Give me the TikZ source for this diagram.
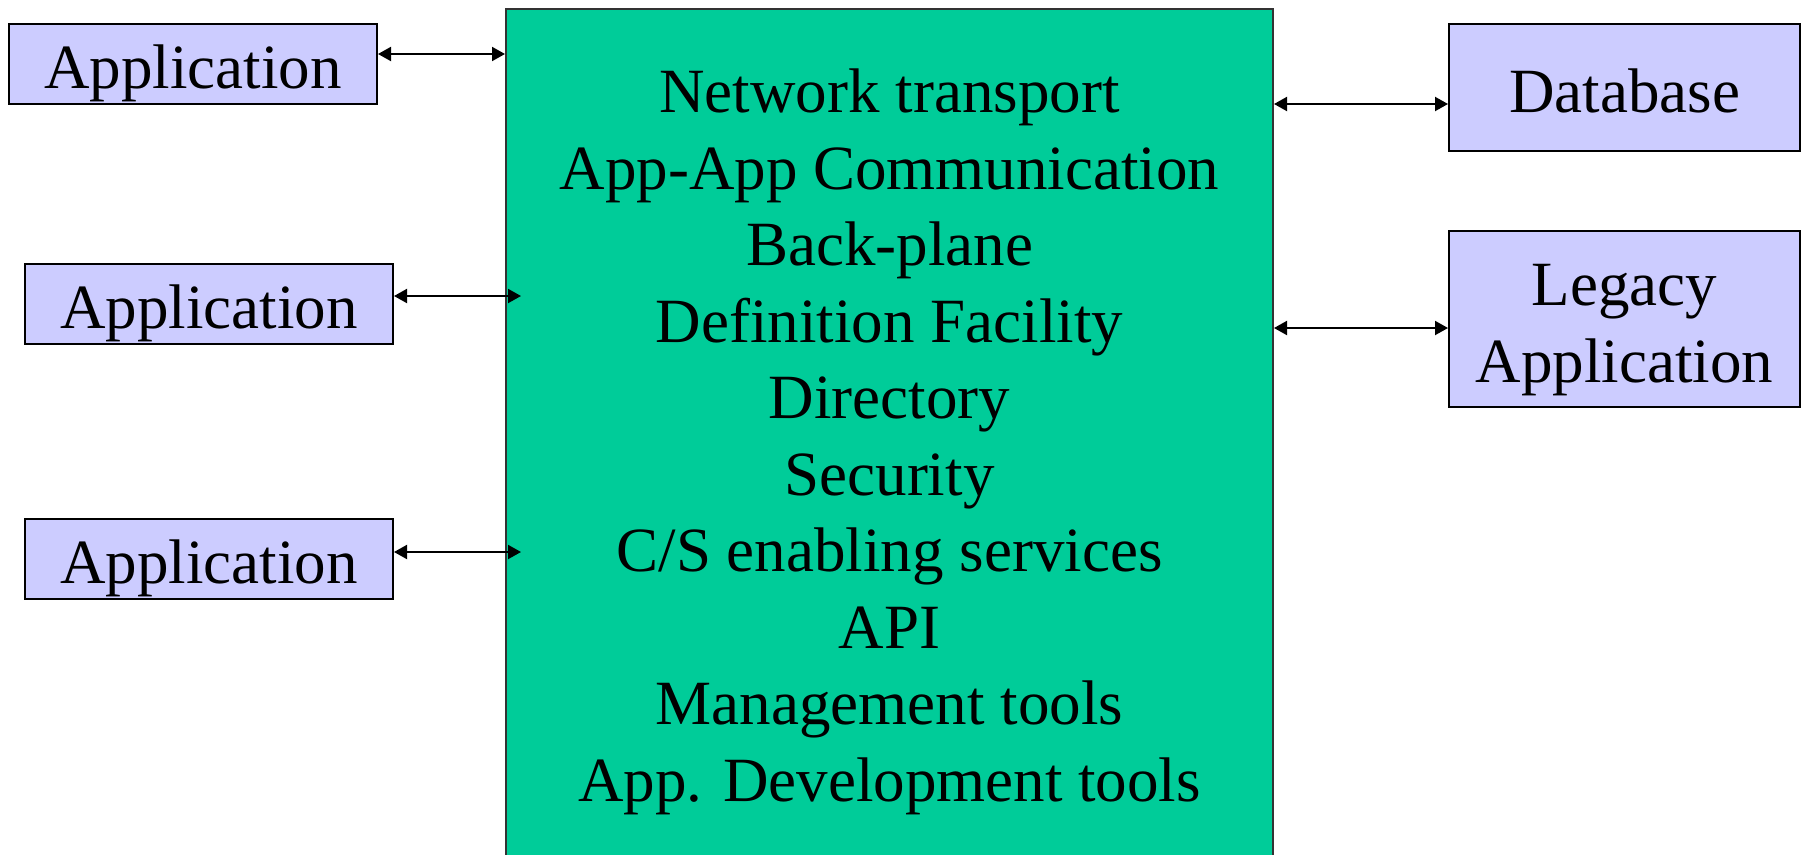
\documentclass[tikz,border=0pt]{standalone}
\usepackage{fontspec}
\setmainfont{Liberation Serif}
\usetikzlibrary{arrows.meta,calc}
\definecolor{hubgreen}{RGB}{0,204,153}
\definecolor{applilac}{RGB}{204,204,255}
\tikzset{
	bigtext/.style={font=\fontsize{63}{76.5}\selectfont},
	appbox/.style={draw=black, fill=applilac, line width=2pt, inner sep=0pt, bigtext, minimum width=368pt, minimum height=80pt, text height=49pt, text depth=0pt},
	link/.style={{Triangle[length=13pt,width=14pt]}-{Triangle[length=13pt,width=14pt]}, line width=2pt}
}
\begin{document}
\begin{tikzpicture}[x=1pt, y=-1pt]
	\useasboundingbox (0,0) rectangle (1806,854);
	% middleware block, runs off the bottom edge
	\node[draw=black!80, fill=hubgreen, line width=2pt, minimum width=767pt, minimum height=900pt, anchor=north] (hub) at (889.5,8) {};
	\node[bigtext, align=center, inner sep=0pt] (services) at (889.5,442) {Network transport\\App-App Communication\\Back-plane\\Definition Facility\\Directory\\Security\\C/S enabling services\\API\\Management tools\\App. Development tools};
	\node[appbox] (app1) at (193,64) {Application};
	\node[appbox] (app2) at (209,303.5) {Application};
	\node[appbox] (app3) at (209,559) {Application};
	\node[appbox, minimum width=351pt, minimum height=127pt, text height=50pt] (db) at (1624.5,87.5) {Database};
	\node[appbox, minimum width=351pt, minimum height=176pt, align=center, text height=133.5pt, text depth=7.5pt] (legacy) at (1624.5,319) {Legacy\\Application};
	\draw[link] (app1.east |- 0,54) -- (hub.west |- 0,54);
	\draw[link] (app2.east |- 0,296) -- ($(hub.west |- 0,296)+(16,0)$);
	\draw[link] (app3.east |- 0,552) -- ($(hub.west |- 0,552)+(16,0)$);
	\draw[link] (hub.east |- 0,104) -- (db.west |- 0,104);
	\draw[link] (hub.east |- 0,328) -- (legacy.west |- 0,328);
\end{tikzpicture}
\end{document}
